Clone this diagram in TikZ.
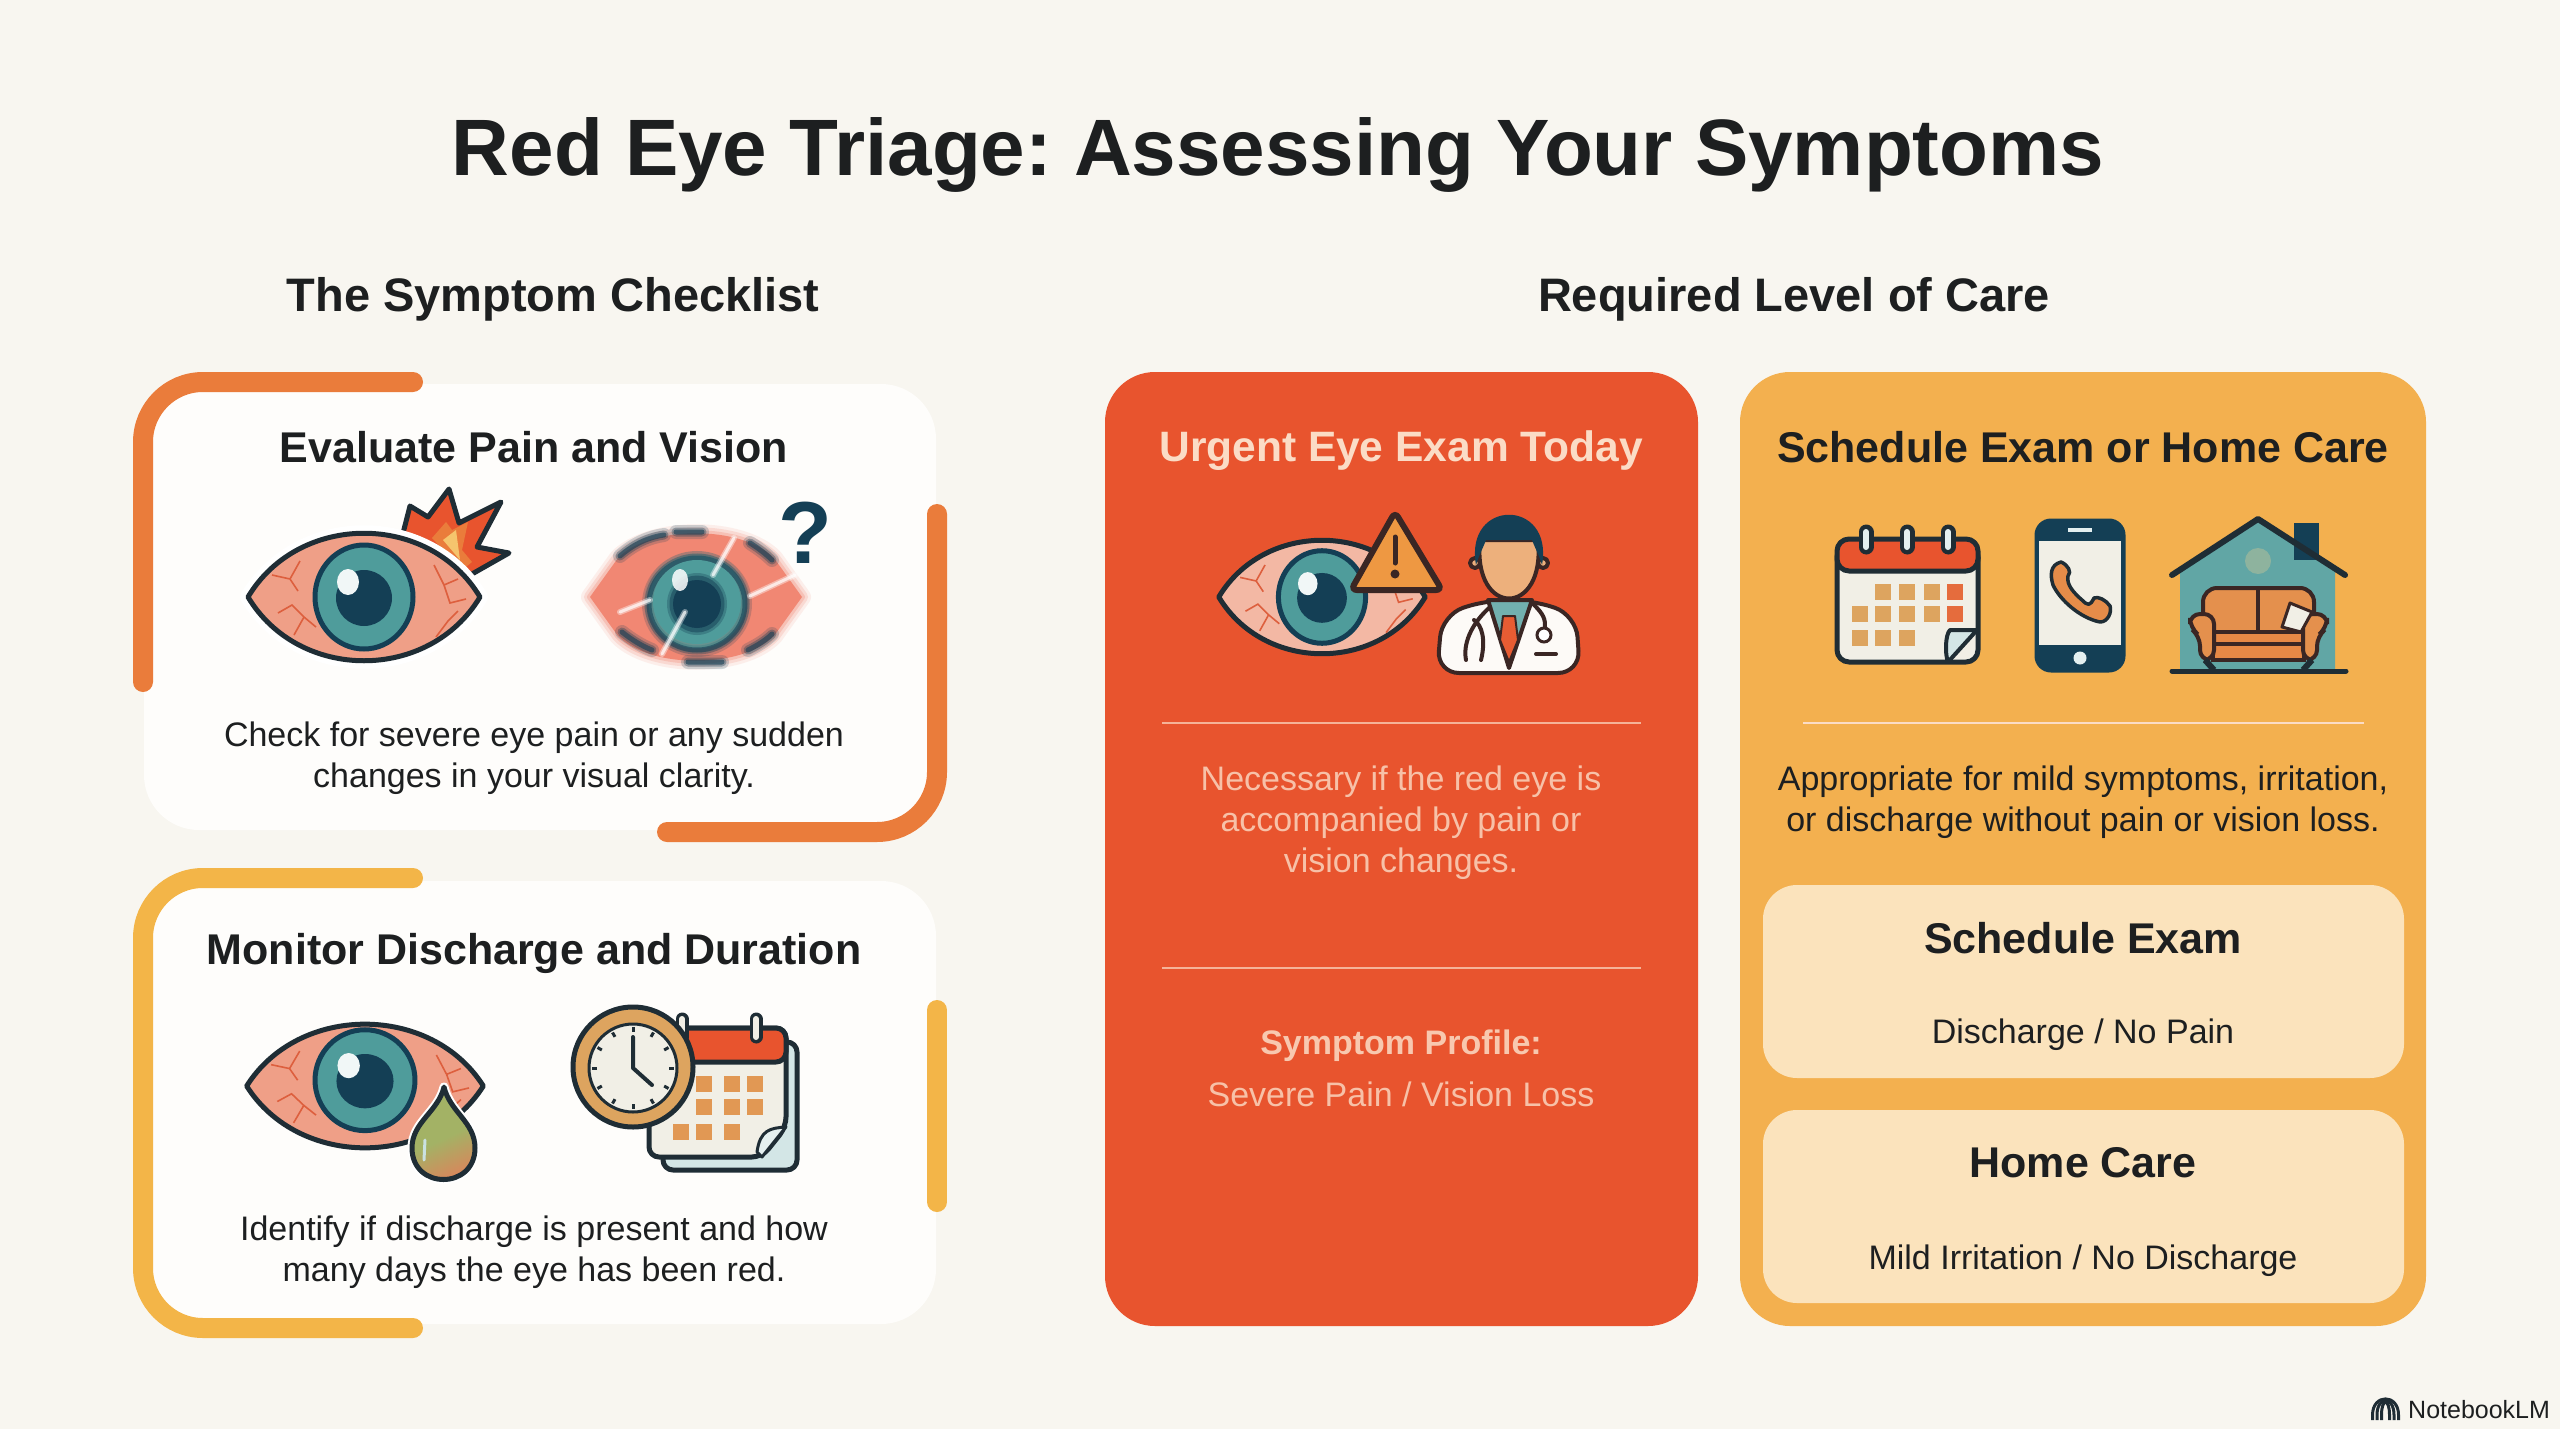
\documentclass[tikz,border=0pt]{standalone}
\usepackage{fontspec}
\setmainfont{Liberation Sans}
\usetikzlibrary{shadings}

\definecolor{paper}{HTML}{F8F6F0}
\definecolor{cardwhite}{HTML}{FEFDFB}
\definecolor{inkdark}{HTML}{1D1F20}
\definecolor{linedark}{HTML}{1F2D35}
\definecolor{linebrown}{HTML}{3A2624}
\definecolor{navy}{HTML}{143F55}
\definecolor{teal}{HTML}{4F9C9B}
\definecolor{salmon}{HTML}{EF9F87}
\definecolor{salmonlight}{HTML}{F3B8A4}
\definecolor{vein}{HTML}{DD5F3E}
\definecolor{bracketorange}{HTML}{EA7C3B}
\definecolor{bracketyellow}{HTML}{F3B548}
\definecolor{cardred}{HTML}{E8542E}
\definecolor{cardyellow}{HTML}{F3B04F}
\definecolor{cardcream}{HTML}{FBE3BC}
\definecolor{textpeach}{HTML}{FBDCC6}
\definecolor{tan}{HTML}{DDA45F}
\definecolor{skin}{HTML}{EDB07C}
\definecolor{sheet}{HTML}{F1EFE6}
\definecolor{dropgreen}{HTML}{A3B265}
\definecolor{dropred}{HTML}{E0805A}

\tikzset{
  cardbox/.style={rounded corners=#1},
  bracket/.style={line width=20pt,line cap=round,rounded corners=60pt},
  icon/.style={draw=linedark,line width=5pt,line join=round},
  doctorline/.style={draw=linebrown,line width=4pt,line join=round},
  heading/.style={font=\fontsize{43}{50}\selectfont\bfseries,text=inkdark,inner sep=0pt},
  bighead/.style={font=\fontsize{47}{54}\selectfont\bfseries,text=inkdark,inner sep=0pt},
  bodytext/.style={font=\fontsize{34}{41}\selectfont,text=inkdark,align=center,inner sep=0pt},
  redtext/.style={text=textpeach,inner sep=0pt,align=center},
  pics/redeye/.style 2 args={code={
    \draw[icon,fill=#1] (-116,0) .. controls (-65,-85) and (65,-85) .. (116,0) .. controls (65,85) and (-65,85) .. cycle;
    \draw[vein,line width=1.6pt] (-92,-22)--(-74,-18)--(-64,-36) (-74,-18)--(-66,-6)
      (-86,16)--(-72,8)--(-60,20)--(-70,38) (-60,20)--(-48,30)
      (70,-32)--(80,-12)--(94,-18) (80,-12)--(86,6)--(102,2) (72,40)--(84,24)--(94,14);
    \draw[draw=navy,line width=5pt,fill=teal] (0,#2) circle[x radius=49,y radius=52];
    \fill[navy] (0,#2+1) circle (28);
    \fill[white!92!teal] (-16,#2-15) circle[x radius=11,y radius=13];
  }}
}

\begin{document}
\frenchspacing
\begin{tikzpicture}[x=1pt,y=-1pt]

\useasboundingbox (0,0) rectangle (2560,1429);
\fill[paper] (0,0) rectangle (2560,1429);

% Part A: Titles

\node[font=\fontsize{80}{90}\selectfont\bfseries,text=inkdark,inner sep=0pt] (maintitle) at (1278,155) {Red Eye Triage: Assessing Your Symptoms};
\node[bighead] (checktitle) at (553,299) {The Symptom Checklist};
\node[bighead] (caretitle) at (1794,299) {Required Level of Care};

% Part B: Checklist cards

\fill[cardwhite,cardbox=55pt] (144,384) rectangle (936,830);
\fill[cardwhite,cardbox=55pt] (144,881) rectangle (936,1324);

% Card brackets
\draw[bracket,bracketorange] (143,682)--(143,382)--(413,382);
\draw[bracket,bracketorange] (937,514)--(937,832)--(667,832);
\draw[bracket,bracketyellow] (413,878)--(143,878)--(143,1328)--(413,1328);
\draw[bracket,bracketyellow] (937,1010)--(937,1202);

\node[heading] (paintitle) at (534,447) {Evaluate Pain and Vision};
\node[bodytext] (paintext) at (534,758) {Check for severe eye pain or any sudden\\changes in your visual clarity.};
\node[heading] (dischargetitle) at (534,953) {Monitor Discharge and Duration};
\node[bodytext] (dischargetext) at (534,1252) {Identify if discharge is present and how\\many days the eye has been red.};

% Part C: Pain eye

% Burst
\draw[icon,fill=cardred] (400,545)--(410,506)--(428,517)--(449,489)--(459,523)--(501,502)--(477,547)--(509,553)--(472,574)--(440,590)--cycle;
\fill[bracketorange] (432,538)--(446,522)--(452,530)--(468,522)--(462,550)--(472,562)--(462,570)--cycle;
\fill[bracketyellow!80!white] (443,540)--(456,530)--(460,560)--cycle;
\draw[white,line width=16pt,fill=white,line join=round] (248,597) .. controls (300,512) and (428,512) .. (480,597) .. controls (428,682) and (300,682) .. cycle;
\pic at (364,597) {redeye={salmon}{0}};

% Part D: Blurred eye

\foreach \w/\o in {18/.12,12/.2,6/.3}{
  \draw[salmon!85!red,opacity=\o,line width=\w pt,line join=round] (590,597) -- (618,558) .. controls (650,525) and (742,525) .. (774,558) -- (802,597) -- (774,636) .. controls (742,669) and (650,669) .. (618,636) -- cycle;
}
\fill[salmon!85!red] (590,597) -- (618,558) .. controls (650,525) and (742,525) .. (774,558) -- (802,597) -- (774,636) .. controls (742,669) and (650,669) .. (618,636) -- cycle;
\foreach \w/\o in {14/.2,9/.35,5/.6}{
  \draw[navy,opacity=\o,line width=\w pt,line cap=round] (620,556) .. controls (635,543) and (650,537) .. (664,535)
    (676,532) -- (702,532) (750,543) .. controls (758,548) and (766,554) .. (772,560)
    (622,632) .. controls (632,640) and (642,646) .. (652,650) (688,662) -- (722,662) (748,650) .. controls (758,645) and (766,640) .. (772,634);
  \draw[teal,opacity=\o,line width=\w pt] (697,602) circle[x radius=46,y radius=44];
  \draw[navy,opacity=\o,line width=\w pt] (697,604) circle[x radius=48,y radius=46];
  \fill[navy,opacity=\o] (697,604) circle[x radius=22+\w/2,y radius=21+\w/2];
}
\fill[teal] (697,602) circle[x radius=44,y radius=42];
\foreach \w/\o in {12/.3,7/.5}{
  \fill[navy,opacity=\o] (697,604) circle[x radius=24+\w/2,y radius=25+\w/2];
}
\fill[navy] (697,604) circle (24);
\fill[white,opacity=.85] (680,580) circle[x radius=8,y radius=11];
\foreach \xa/\ya/\xb/\yb in {734/538/713/575, 685/612/662/654, 795/575/750/596, 650/600/620/612}{
  \draw[white,opacity=.4,line width=6pt,line cap=round] (\xa,\ya)--(\xb,\yb);
  \draw[white,opacity=.7,line width=3pt,line cap=round] (\xa,\ya)--(\xb,\yb);
}
\node[font=\fontsize{88}{96}\selectfont\bfseries,text=navy,inner sep=0pt] (question) at (805,533) {?};

% Part E: Discharge eye

\pic[xscale=1.02,yscale=.97] at (365,1086) {redeye={salmon}{-6}};

% Drop
\draw[line width=9pt,white,fill=white,line join=round] (444,1087) .. controls (438,1112) and (412,1122) .. (412,1148) .. controls (412,1190) and (475,1190) .. (475,1148) .. controls (475,1122) and (450,1112) .. cycle;
\shade[left color=dropgreen,right color=dropred,middle color=dropgreen,shading angle=25] (444,1087) .. controls (438,1112) and (412,1122) .. (412,1148) .. controls (412,1190) and (475,1190) .. (475,1148) .. controls (475,1122) and (450,1112) .. cycle;
\draw[icon,fill=none] (444,1087) .. controls (438,1112) and (412,1122) .. (412,1148) .. controls (412,1190) and (475,1190) .. (475,1148) .. controls (475,1122) and (450,1112) .. cycle;
\draw[white!70!teal,line width=3pt,line cap=round] (425,1140)--(424,1160);

% Part F: Clock and calendar

% Back page
\draw[icon,fill=teal!25!white,rounded corners=10pt] (663,1042) rectangle (797,1170);

% Front page
\draw[icon,fill=sheet,rounded corners=10pt] (649,1028) -- (786,1028) -- (786,1127) -- (762,1157) -- (649,1157) -- cycle;
\draw[icon,fill=cardred,rounded corners=10pt] (649,1062) -- (649,1028) -- (786,1028) -- (786,1062) -- cycle;
\draw[icon,fill=teal!15!white,line width=3pt] (786,1127) .. controls (770,1128) and (760,1130) .. (757,1152) -- (762,1157) -- cycle;
\foreach \cx in {682,756}{
  \draw[linedark,line width=13pt,line cap=round] (\cx,1019)--(\cx,1037);
  \draw[sheet,line width=6pt,line cap=round] (\cx,1019)--(\cx,1037);
}
\foreach \cx/\cy in {704/1084,732/1084,755/1084,704/1107,732/1107,755/1107,681/1132,704/1132,732/1132}{
  \fill[tan!70!bracketorange] (\cx-8,\cy-8) rectangle (\cx+8,\cy+8);
}

% Clock
\draw[icon,fill=tan] (633,1067) circle (60);
\draw[icon,line width=3pt,fill=sheet] (633,1068) circle (44);
\foreach \a in {0,30,...,330}{
  \draw[linedark,line width=3pt] ({633+36*cos(\a)},{1068+36*sin(\a)})--({633+41*cos(\a)},{1068+41*sin(\a)});
}
\draw[linedark,line width=4pt,line cap=round,line join=round] (633,1037)--(633,1068)--(652,1085);

% Part G: Urgent card

\fill[cardred,cardbox=50pt] (1105,372) rectangle (1698,1326);
\node[redtext,font=\fontsize{42.5}{50}\selectfont\bfseries] (urgenttitle) at (1401,451) {Urgent Eye Exam Today};
\draw[textpeach,opacity=.7,line width=2pt] (1162,723)--(1641,723);
\node[redtext,font=\fontsize{34}{41}\selectfont,text=textpeach!80!cardred] (urgenttext) at (1401,823) {Necessary if the red eye is\\accompanied by pain or\\vision changes.};
\draw[textpeach,opacity=.7,line width=2pt] (1162,968)--(1641,968);
\node[redtext,font=\fontsize{34}{41}\selectfont\bfseries,text=textpeach!85!cardred] (profilehead) at (1401,1046) {Symptom Profile:};
\node[redtext,font=\fontsize{34}{41}\selectfont,text=textpeach!80!cardred] (profiletext) at (1401,1094) {Severe Pain / Vision Loss};

% Eye with warning
\pic[xscale=.89,yscale=.89] at (1322,597) {redeye={salmonlight}{0}};
\draw[draw=linebrown,line width=6pt,rounded corners=6pt,fill=bracketorange!50!bracketyellow] (1395,512)--(1442,590)--(1351,590)--cycle;
\draw[linebrown,line width=5pt,line cap=round] (1395,537)--(1395,563);
\fill[linebrown] (1395,574) circle (4.5);

% Doctor
\draw[doctorline,fill=white!95!tan,rounded corners=22pt] (1437,673)--(1442,615)--(1486,600)--(1532,600)--(1576,615)--(1580,673)--cycle;
\draw[doctorline,fill=teal!80!white] (1488,600)--(1532,600)--(1509,668)--cycle;
\draw[doctorline,line width=2pt,fill=cardred!90!tan] (1503,616)--(1515,616)--(1518,640)--(1509,662)--(1500,640)--cycle;
\draw[doctorline,fill=skin] (1475,563) circle (5);
\draw[doctorline,fill=skin] (1543,563) circle (5);
\draw[doctorline,fill=skin] (1480,540) .. controls (1472,618) and (1546,618) .. (1538,540) -- cycle;
\fill[navy] (1476,565) .. controls (1464,498) and (1554,498) .. (1542,565) .. controls (1539,555) and (1535,548) .. (1532,540) -- (1486,540) .. controls (1483,548) and (1479,555) .. cycle;
\draw[linebrown,line width=4pt,line cap=round] (1490,607) .. controls (1470,625) and (1463,645) .. (1466,660) (1481,660) .. controls (1486,640) and (1482,625) .. (1474,620);
\draw[linebrown,line width=4pt,line cap=round] (1532,603) .. controls (1545,615) and (1545,620) .. (1545,627);
\draw[linebrown,line width=3pt,fill=white] (1544,635) circle (7);
\draw[linebrown,line width=4pt,line cap=round] (1536,654)--(1556,654);

% Part H: Scheduled card

\fill[cardyellow,cardbox=50pt] (1740,372) rectangle (2426,1326);
\node[heading] (scheduletitle) at (2083,447) {Schedule Exam or Home Care};
\draw[textpeach,line width=2pt] (1803,723)--(2364,723);
\node[bodytext] (scheduletext) at (2083,802) {Appropriate for mild symptoms, irritation,\\or discharge without pain or vision loss.};

\fill[cardcream,cardbox=34pt] (1763,885) rectangle (2404,1078);
\node[heading] (examhead) at (2083,938) {Schedule Exam};
\node[bodytext] (examtext) at (2083,1035) {Discharge / No Pain};
\fill[cardcream,cardbox=34pt] (1763,1110) rectangle (2404,1303);
\node[heading] (homehead) at (2083,1163) {Home Care};
\node[bodytext] (hometext) at (2083,1261) {Mild Irritation / No Discharge};

% Calendar
\draw[icon,fill=sheet,rounded corners=12pt] (1837,545) rectangle (1978,662);
\draw[icon,fill=cardred,rounded corners=12pt] (1837,571)--(1837,539)--(1978,539)--(1978,571)--cycle;
\foreach \cx in {1866,1907,1948}{
  \draw[linedark,line width=15pt,line cap=round] (\cx,532)--(\cx,547);
  \draw[white!85!teal,line width=6pt,line cap=round] (\cx,532)--(\cx,547);
}
\foreach \cx/\cy in {1883/592,1907/592,1932/592,1860/614,1883/614,1907/614,1932/614,1860/638,1883/638,1907/638}{
  \fill[tan] (\cx-8,\cy-8) rectangle (\cx+8,\cy+8);
}
\foreach \cy in {592,614}{
  \fill[cardred!70!tan] (1947,\cy-8) rectangle (1963,\cy+8);
}
\draw[linedark,line width=4pt,fill=teal!25!white,line join=round] (1977,630) -- (1950,630) .. controls (1945,635) and (1945,655) .. (1948,662) -- cycle;

% Phone
\draw[draw=navy,line width=3pt,fill=navy,rounded corners=15pt] (2036,520) rectangle (2124,671);
\fill[sheet] (2039,541) rectangle (2121,645);
\fill[white!85!teal] (2068,528) rectangle (2092,532);
\fill[white!85!teal] (2080,658) circle (6.5);
\draw[linedark,line width=3.5pt,fill=bracketorange!60!tan,line join=round] (2061,562) .. controls (2050,565) and (2050,575) .. (2053,585) .. controls (2060,600) and (2080,618) .. (2100,622) .. controls (2108,622) and (2112,612) .. (2110,606) .. controls (2106,600) and (2098,596) .. (2094,598) .. controls (2090,606) and (2088,606) .. (2082,600) .. controls (2075,594) and (2066,585) .. (2068,576) .. controls (2072,572) and (2068,565) .. (2061,562) -- cycle;

% House
\fill[teal!90!white] (2180,572)--(2258,521)--(2335,572)--(2335,670)--(2180,670)--cycle;
\fill[navy] (2294,523) rectangle (2319,560);
\draw[linedark,line width=6pt,line join=round,line cap=round] (2172,575)--(2258,519)--(2345,575);
\draw[linedark,line width=5pt,line cap=round] (2172,671)--(2346,671);
\fill[bracketyellow!60!white,opacity=.3] (2258,561) circle (13);

% Sofa
\draw[draw=linebrown,line width=4pt,fill=tan!50!bracketorange,rounded corners=14pt] (2203,640)--(2203,588)--(2314,588)--(2314,640)--cycle;
\draw[linebrown,line width=4pt] (2258,588)--(2258,630);
\draw[draw=linebrown,line width=4pt,fill=bracketorange!70!tan] (2213,632) rectangle (2304,660);
\draw[linebrown,line width=4pt] (2213,644)--(2304,644);
\draw[draw=linebrown,line width=4pt,fill=tan!50!bracketorange,rounded corners=10pt] (2190,628)--(2190,614)--(2214,614)--(2214,660)--(2200,660)--(2200,636)--cycle;
\draw[draw=linebrown,line width=4pt,fill=tan!50!bracketorange,rounded corners=10pt] (2327,628)--(2327,614)--(2303,614)--(2303,660)--(2317,660)--(2317,636)--cycle;
\draw[draw=linebrown,line width=3pt,fill=sheet,line join=round] (2290,603)--(2312,612)--(2301,632)--(2282,627)--cycle;
\draw[linedark,line width=6pt] (2205,660)--(2214,670) (2312,660)--(2303,670);

% Part I: Mark

\foreach \r in {4,8.5,13}{
  \draw[linedark,line width=3pt] (2385.5-\r,1420) -- (2385.5-\r,1415) .. controls (2385.5-\r,1400-\r/2) and (2385.5+\r,1400-\r/2) .. (2385.5+\r,1415) -- (2385.5+\r,1420);
}
\node[font=\fontsize{25}{30}\selectfont,text=inkdark,inner sep=0pt,anchor=west] (notebookmark) at (2408,1410) {NotebookLM};

\end{tikzpicture}
\end{document}
